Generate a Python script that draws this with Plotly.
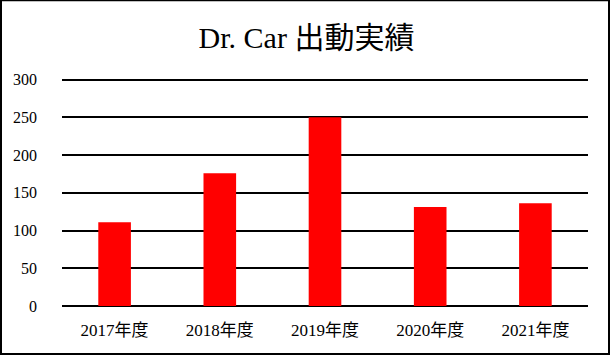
import plotly.graph_objects as go

categories = ["2017年度", "2018年度", "2019年度", "2020年度", "2021年度"]
values = [111, 176, 250, 131, 136]
tick_vals = [0, 50, 100, 150, 200, 250, 300]
title_text = "Dr. Car 出動実績"

W, H = 613, 357
Y_MAX = 306
# pixel rows of the 0 and 300 gridlines in the target layout
y_zero_px, y_300_px = 306, 80
ph = (y_zero_px - y_300_px) * Y_MAX / 300
L, R = 62, 25
B = H - y_zero_px
T = H - B - ph
pw = W - L - R

FONT = "Liberation Serif, 'Noto Sans CJK JP', serif"

fig = go.Figure(go.Bar(
    x=categories, y=values,
    marker=dict(color="#ff0000", line=dict(width=0)),
    width=0.31,
))

# outer border in paper coordinates
bx0, bx1, by0, by1 = 1, 609, 1, 354
fig.add_shape(type="rect", xref="paper", yref="paper",
              x0=(bx0 - L) / pw, x1=(bx1 - L) / pw,
              y0=(H - B - by1) / ph, y1=(H - B - by0) / ph,
              line=dict(color="black", width=2), fillcolor="rgba(0,0,0,0)",
              layer="above")

fig.update_layout(
    width=W, height=H,
    margin=dict(l=L, r=R, t=T, b=B, pad=0),
    paper_bgcolor="white", plot_bgcolor="white",
    showlegend=False,
    font=dict(family=FONT, color="black", size=16),
    title=dict(text=title_text, x=0.5, xanchor="center", y=1 - 37 / H, yanchor="middle",
               font=dict(family=FONT, size=30, color="black")),
    xaxis=dict(showgrid=False, showline=False, zeroline=False, ticks="",
               tickfont=dict(family=FONT, size=17), ticklabelstandoff=12),
    yaxis=dict(range=[0, Y_MAX], tickvals=tick_vals, showgrid=True, gridcolor="black",
               gridwidth=2, zeroline=True, zerolinecolor="black", zerolinewidth=2,
               showline=False, ticks="", tickfont=dict(family=FONT, size=16),
               ticklabelstandoff=24),
    bargap=0.69,
)

fig.write_html("out.html", config={"displayModeBar": False},
               post_script="document.body.style.margin='0';")
